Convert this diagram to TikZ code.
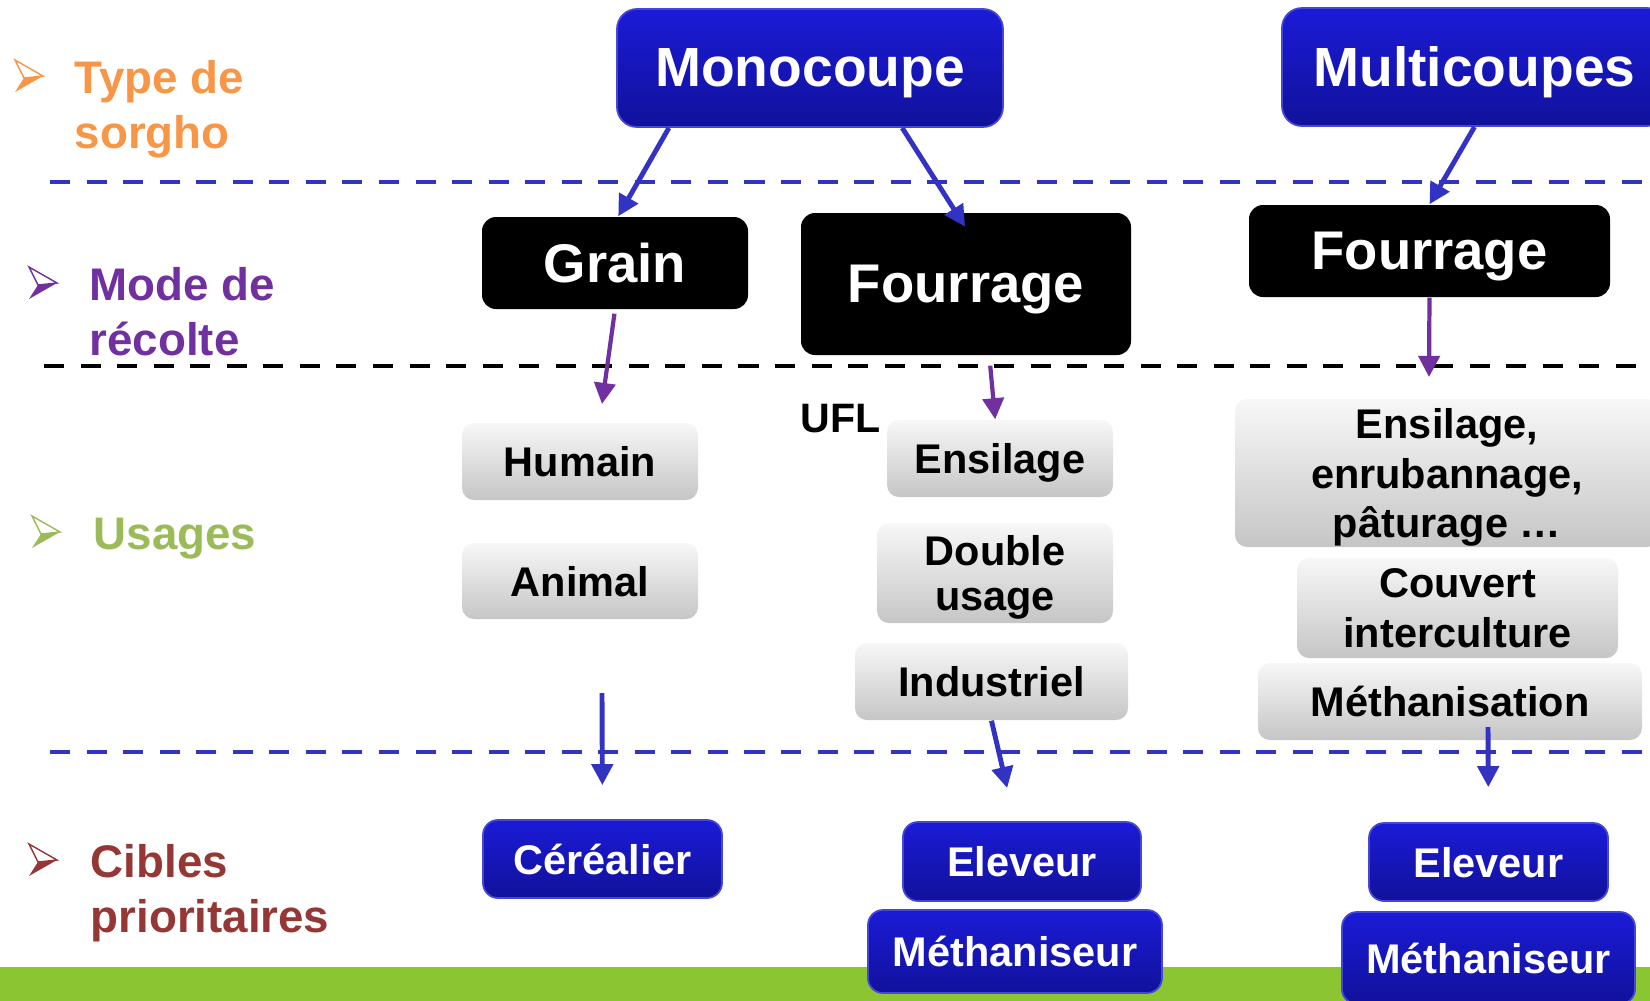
\documentclass[tikz,border=0pt]{standalone}
\usepackage{fontspec}
\setmainfont{Liberation Sans}
\usetikzlibrary{arrows.meta}

\definecolor{bleuhaut}{RGB}{27,27,215}
\definecolor{bleubas}{RGB}{17,17,155}
\definecolor{bleubord}{RGB}{70,70,215}
\definecolor{bleutrait}{RGB}{51,51,195}
\definecolor{violetM}{RGB}{112,48,160}
\definecolor{orangeT}{RGB}{247,150,70}
\definecolor{vertU}{RGB}{155,187,89}
\definecolor{rougeC}{RGB}{149,55,53}
\definecolor{vertbande}{RGB}{140,197,50}

\begin{document}
\begin{tikzpicture}[
	haut/.style={rounded corners=0.2cm, top color=bleuhaut, bottom color=bleubas, draw=bleubord, line width=0.5pt, text=white, text depth=0pt, inner sep=0pt, font=\bfseries\fontsize{15.7}{18}\selectfont},
	mode/.style={rounded corners=0.14cm, fill=black, text=white, text depth=0pt, inner sep=0pt, font=\bfseries\fontsize{15.5}{18}\selectfont},
	usage/.style={rounded corners=0.12cm, top color=gray!6, bottom color=gray!45, text depth=0pt, inner sep=0pt, align=center, font=\bfseries\fontsize{11.8}{14}\selectfont},
	cible/.style={haut, rounded corners=0.15cm, font=\bfseries\fontsize{11.8}{14}\selectfont},
	rubrique/.style={anchor=base west, inner sep=0pt, align=left, font=\bfseries\fontsize{13}{15.6}\selectfont},
	pointille/.style={line width=1.1pt, dash pattern=on 5.7pt off 4.7pt},
	flbleu/.style={line width=1.4pt, color=bleutrait, -{Triangle[length=6pt,width=6pt]}},
	flviolet/.style={line width=1.2pt, color=violetM, -{Triangle[length=6pt,width=6pt]}}
]
\useasboundingbox (0,0) rectangle (16.5,-10.01);
\clip (0,0) rectangle (16.5,-10.01);

% bande du bas
\fill[vertbande] (0,-9.67) rectangle (16.5,-10.01);

% separations
\draw[pointille, bleutrait] (0.50,-1.82) -- (16.5,-1.82);
\draw[pointille, black] (0.44,-3.66) -- (16.5,-3.66);
\draw[pointille, bleutrait] (0.50,-7.52) -- (16.5,-7.52);

% rubriques
\foreach \bx/\by/\bc in {0.43/-0.76/orangeT, 0.57/-2.83/violetM, 0.60/-5.32/vertU, 0.57/-8.60/rougeC}{
	\begin{scope}[shift={(\bx,\by)}]
		\fill[\bc] (-0.19,-0.02) -- (0,0) -- (-0.28,-0.16) -- cycle;
		\draw[\bc, line width=0.4pt, fill=white] (-0.28,0.16) -- (0,0) -- (-0.19,-0.02) -- cycle;
	\end{scope}
}
% (base = derniere ligne)
\node[rubrique, text=orangeT] (type) at (0.74,-1.48) {Type de\\sorgho};
\node[rubrique, text=violetM] (recolte) at (0.89,-3.55) {Mode de\\récolte};
\node[rubrique, text=vertU] (usages) at (0.93,-5.49) {Usages};
\node[rubrique, text=rougeC] (cibles) at (0.90,-9.32) {Cibles\\prioritaires};

% type de sorgho
\node[haut, minimum width=3.86cm, minimum height=1.18cm] (mono) at (8.10,-0.68) {Monocoupe};
\node[haut, minimum width=3.85cm, minimum height=1.18cm] (multi) at (14.745,-0.67) {Multicoupes};

% mode de recolte
\node[mode, minimum width=2.66cm, minimum height=0.92cm] (grain) at (6.15,-2.63) {Grain};
\node[mode, minimum width=3.30cm, minimum height=1.42cm] (fourm) at (9.66,-2.84) {Fourrage};
\node[mode, minimum width=3.61cm, minimum height=0.92cm] (fourr) at (14.295,-2.51) {Fourrage};

% usages
\node[usage, minimum width=2.36cm, minimum height=0.77cm] (hum) at (5.80,-4.615) {Humain};
\node[usage, minimum width=2.36cm, minimum height=0.76cm] (ani) at (5.80,-5.81) {Animal};
\node[anchor=base west, inner sep=0pt, font=\bfseries\fontsize{11.7}{14}\selectfont] (ufl) at (8.00,-4.32) {UFL};
\node[usage, minimum width=2.26cm, minimum height=0.77cm] (ens) at (10.00,-4.585) {Ensilage};
\node[usage, minimum width=2.36cm, minimum height=1.00cm, font=\bfseries\fontsize{11.8}{12.8}\selectfont] (dbl) at (9.95,-5.73) {Double\\usage};
\node[usage, minimum width=2.73cm, minimum height=0.77cm] (ind) at (9.915,-6.815) {Industriel};
\node[usage, minimum width=4.24cm, minimum height=1.48cm] (ensr) at (14.47,-4.73) {Ensilage,\\enrubannage,\\pâturage …};
\node[usage, minimum width=3.21cm, minimum height=1.00cm] (couv) at (14.575,-6.08) {Couvert\\interculture};
\node[usage, minimum width=3.84cm, minimum height=0.77cm] (meth) at (14.50,-7.015) {Méthanisation};

% cibles
\node[cible, minimum width=2.39cm, minimum height=0.78cm] (cer) at (6.025,-8.59) {Céréalier};
\node[cible, minimum width=2.38cm, minimum height=0.79cm] (elm) at (10.22,-8.615) {Eleveur};
\node[cible, minimum width=2.94cm, minimum height=0.83cm] (metm) at (10.15,-9.515) {Méthaniseur};
\node[cible, minimum width=2.39cm, minimum height=0.78cm] (elr) at (14.885,-8.62) {Eleveur};
\node[cible, minimum width=2.93cm, minimum height=0.92cm] (metr) at (14.885,-9.58) {Méthaniseur};

% fleches
\coordinate (fingrain) at (6.02,-4.04);
\coordinate (finfour) at (14.29,-3.77);
\coordinate (debcer) at (6.02,-6.93);
\coordinate (debmeth) at (14.88,-7.27);
\draw[flbleu] (mono.203.6) -- (grain.86);
\draw[flbleu, shorten >=-0.17cm] (mono.-33) -- (fourm.98);
\draw[flbleu] (multi.south) -- (fourr.north);
\draw[flviolet, shorten <=0.04cm] (grain.south) -- (fingrain);
\draw[flviolet, shorten <=0.1cm] (fourm.-72) -- (ens.97);
\draw[flviolet] (fourr.south) -- (finfour);
\draw[flbleu, shorten >=0.34cm] (debcer) -- (cer.north);
\draw[flbleu, shorten >=0.34cm] (ind.south) -- (elm.100);
\draw[flbleu, shorten >=0.35cm] (debmeth) -- (elr.north);
\end{tikzpicture}
\end{document}
